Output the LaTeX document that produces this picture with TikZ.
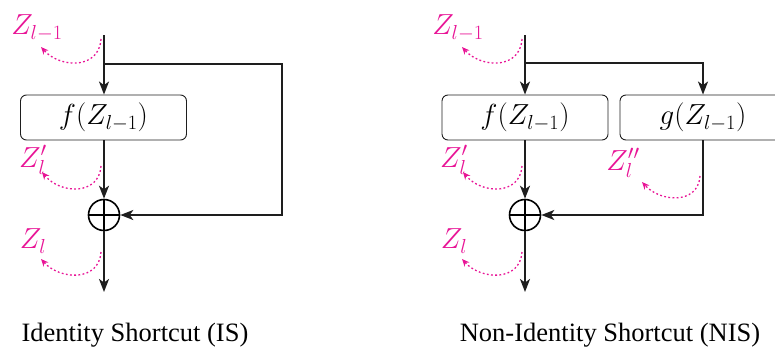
\RequirePackage{fix-cm}
\documentclass[tikz,border=0pt]{standalone}
\usepackage{fontspec}
\newfontfamily\capfont{Liberation Serif}
\usetikzlibrary{arrows.meta}
\definecolor{flowpink}{RGB}{232,20,150}
\definecolor{linegray}{RGB}{30,30,30}
\begin{document}
\begin{tikzpicture}[x=1pt,y=-1pt,
  flow/.style={draw=linegray,line width=1.9pt,-{Stealth[length=13pt,width=10pt,inset=3.5pt]}},
  wire/.style={draw=linegray,line width=1.9pt},
  fbox/.style={draw=linegray,line width=0.9pt,rounded corners=6pt,minimum width=166pt,minimum height=45pt,inner sep=0pt,font=\fontsize{29}{34}\selectfont},
  addop/.style={circle,draw=black,line width=1.6pt,minimum size=31pt,inner sep=0pt,
    path picture={\draw[black,line width=1.6pt] (path picture bounding box.north) -- (path picture bounding box.south)
      (path picture bounding box.west) -- (path picture bounding box.east);}},
  tag/.style={text=flowpink,inner sep=0pt,font=\fontsize{29}{34}\selectfont},
  hint/.style={draw=flowpink,line width=1.3pt,dash pattern=on 1.8pt off 2.4pt,-{Stealth[length=7.5pt,width=6.5pt]}},
  caption/.style={inner sep=0pt,font=\capfont\fontsize{26.5}{31}\selectfont}]
\useasboundingbox (0,0) rectangle (775,351);

% ---------- Identity shortcut ----------
\coordinate (a0) at (104,35);
\coordinate (abr) at (104,64);
\coordinate (aright) at (282,64);
\coordinate (aret) at (282,215);
\coordinate (aout) at (104,292);
\node[fbox] (af) at (103.5,117.5) {$f(Z_{l-1})$};
\node[addop] (aadd) at (104,215) {};
\draw[wire] (a0) -- (abr);
\draw[flow] (abr) -- (af.north -| abr);
\draw[flow] (af.south -| abr) -- (aadd.north);
\draw[flow] (abr) -- (aright) -- (aret) -- (aadd.east);
\draw[flow] (aadd.south) -- (aout);

\node[tag] (az0) at (37,28) {$Z_{l-1}$};
\node[tag] (az1) at (33,160) {$Z'_l$};
\node[tag] (az2) at (33,241) {$Z_l$};
\draw[hint] (101,39) .. controls (99,70) and (60,68) .. (41,47);
\draw[hint] (101,166) .. controls (99,196) and (60,194) .. (42,172);
\draw[hint] (101,252) .. controls (99,282) and (60,280) .. (41,259);

\node[caption] (acap) at (135,335) {Identity Shortcut (IS)};

% ---------- Non-identity shortcut ----------
\coordinate (b0) at (525,35);
\coordinate (bbr) at (525,63);
\coordinate (bright) at (703,63);
\coordinate (bret) at (703,215);
\coordinate (bout) at (525,292);
\node[fbox] (bf) at (525,117.5) {$f(Z_{l-1})$};
\node[fbox] (bg) at (703,117.5) {$g(Z_{l-1})$};
\node[addop] (badd) at (525,215) {};
\draw[wire] (b0) -- (bbr);
\draw[flow] (bbr) -- (bf.north -| bbr);
\draw[flow] (bbr) -- (bright) -- (bg.north);
\draw[flow] (bf.south -| bbr) -- (badd.north);
\draw[flow] (bg.south) -- (bret) -- (badd.east);
\draw[flow] (badd.south) -- (bout);

\node[tag] (bz0) at (458,28) {$Z_{l-1}$};
\node[tag] (bz1) at (454,160) {$Z'_l$};
\node[tag] (bz3) at (623,163) {$Z''_l$};
\node[tag] (bz2) at (454,241) {$Z_l$};
\draw[hint] (522,39) .. controls (520,70) and (481,68) .. (462,47);
\draw[hint] (522,166) .. controls (520,196) and (481,194) .. (463,172);
\draw[hint] (700,176) .. controls (698,205) and (660,202) .. (642,182);
\draw[hint] (522,252) .. controls (520,282) and (481,280) .. (462,259);

\node[caption] (bcap) at (610,335) {Non-Identity Shortcut (NIS)};
\end{tikzpicture}
\end{document}
